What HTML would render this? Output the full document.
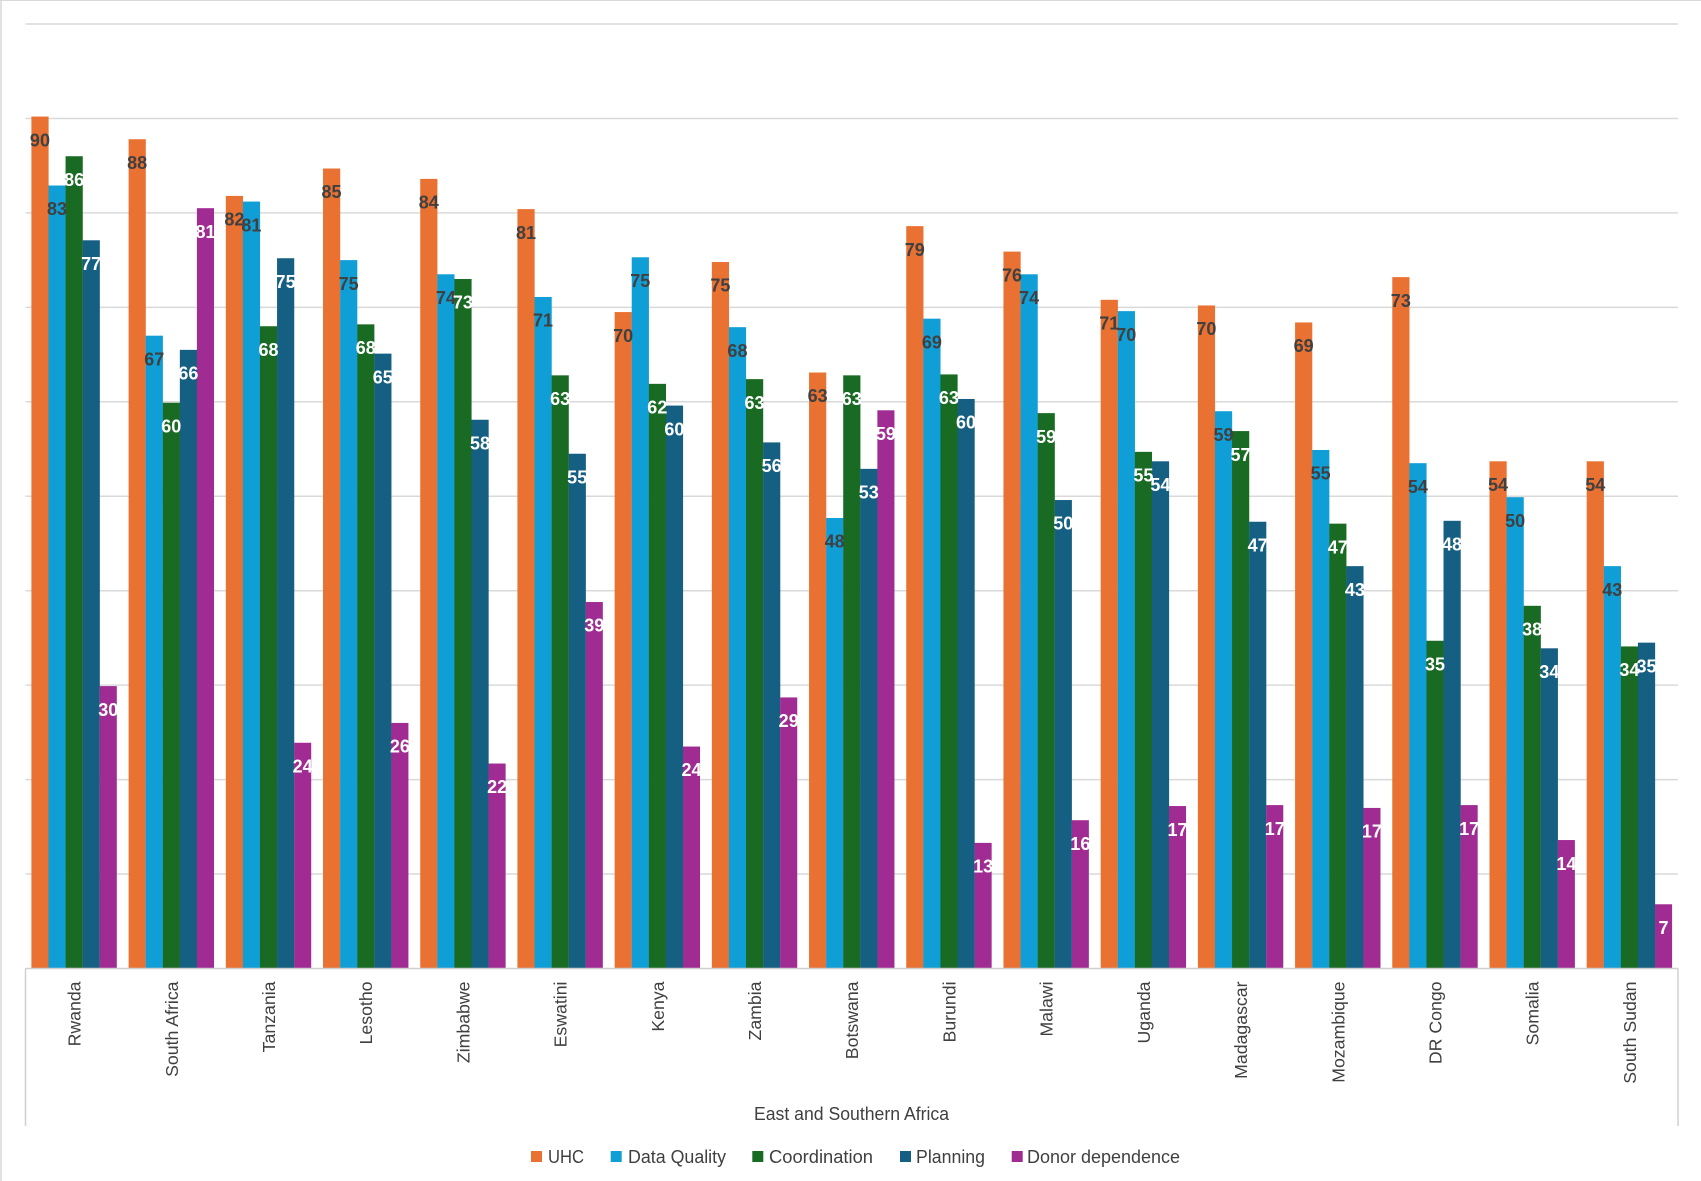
<!DOCTYPE html>
<html><head><meta charset="utf-8"><style>
html,body{margin:0;padding:0;background:#fff}
svg{display:block}
.s0{fill:#E97132}.s1{fill:#0F9ED5}.s2{fill:#196B24}.s3{fill:#156082}.s4{fill:#A02B93}
.lb text{font-family:"Liberation Sans",Arial,sans-serif;font-weight:bold;font-size:18px;text-anchor:middle}
.d{fill:#404040}.w{fill:#fff}
.cat text{font-family:"Liberation Sans",Arial,sans-serif;font-size:17.7px;fill:#404040;text-anchor:end}
.lg{font-family:"Liberation Sans",Arial,sans-serif;font-size:18px;fill:#404040}
</style></head><body>
<svg width="1701" height="1181" viewBox="0 0 1701 1181" xmlns="http://www.w3.org/2000/svg">
<rect x="0" y="0" width="1701" height="1181" fill="#fff"/>
<line x1="0" y1="0.5" x2="1701" y2="0.5" stroke="#d9d9d9" stroke-width="1"/>
<line x1="1" y1="0" x2="1" y2="1181" stroke="#d9d9d9" stroke-width="1.5"/>
<g stroke="#d9d9d9" stroke-width="1.5">
<line x1="25.5" y1="24" x2="1678" y2="24"/>
<line x1="25.5" y1="118.45" x2="1678" y2="118.45"/>
<line x1="25.5" y1="212.9" x2="1678" y2="212.9"/>
<line x1="25.5" y1="307.35" x2="1678" y2="307.35"/>
<line x1="25.5" y1="401.8" x2="1678" y2="401.8"/>
<line x1="25.5" y1="496.25" x2="1678" y2="496.25"/>
<line x1="25.5" y1="590.7" x2="1678" y2="590.7"/>
<line x1="25.5" y1="685.15" x2="1678" y2="685.15"/>
<line x1="25.5" y1="779.6" x2="1678" y2="779.6"/>
<line x1="25.5" y1="874.05" x2="1678" y2="874.05"/>
</g>
<!-- bars -->
<g>
<g transform="translate(31.4,0)">
<rect class="s0" x="0" y="116.56" width="17.2" height="851.94"/>
<rect class="s1" x="17.08" y="185.51" width="17.2" height="782.99"/>
<rect class="s2" x="34.16" y="156.23" width="17.2" height="812.27"/>
<rect class="s3" x="51.24" y="240.29" width="17.2" height="728.21"/>
<rect class="s4" x="68.32" y="686.09" width="17.08" height="282.41"/>
</g>
<g transform="translate(128.61,0)">
<rect class="s0" x="0" y="139.23" width="17.2" height="829.27"/>
<rect class="s1" x="17.08" y="335.68" width="17.2" height="632.82"/>
<rect class="s2" x="34.16" y="402.74" width="17.2" height="565.76"/>
<rect class="s3" x="51.24" y="349.85" width="17.2" height="618.65"/>
<rect class="s4" x="68.32" y="208.18" width="17.08" height="760.32"/>
</g>
<g transform="translate(225.81,0)">
<rect class="s0" x="0" y="195.9" width="17.2" height="772.6"/>
<rect class="s1" x="17.08" y="201.57" width="17.2" height="766.93"/>
<rect class="s2" x="34.16" y="326.24" width="17.2" height="642.26"/>
<rect class="s3" x="51.24" y="258.24" width="17.2" height="710.26"/>
<rect class="s4" x="68.32" y="742.76" width="17.08" height="225.74"/>
</g>
<g transform="translate(323.02,0)">
<rect class="s0" x="0" y="168.51" width="17.2" height="799.99"/>
<rect class="s1" x="17.08" y="260.12" width="17.2" height="708.38"/>
<rect class="s2" x="34.16" y="324.35" width="17.2" height="644.15"/>
<rect class="s3" x="51.24" y="353.63" width="17.2" height="614.87"/>
<rect class="s4" x="68.32" y="722.93" width="17.08" height="245.57"/>
</g>
<g transform="translate(420.22,0)">
<rect class="s0" x="0" y="178.9" width="17.2" height="789.6"/>
<rect class="s1" x="17.08" y="274.29" width="17.2" height="694.21"/>
<rect class="s2" x="34.16" y="279.01" width="17.2" height="689.49"/>
<rect class="s3" x="51.24" y="419.75" width="17.2" height="548.75"/>
<rect class="s4" x="68.32" y="763.54" width="17.08" height="204.96"/>
</g>
<g transform="translate(517.43,0)">
<rect class="s0" x="0" y="209.12" width="17.2" height="759.38"/>
<rect class="s1" x="17.08" y="296.96" width="17.2" height="671.54"/>
<rect class="s2" x="34.16" y="375.35" width="17.2" height="593.15"/>
<rect class="s3" x="51.24" y="453.75" width="17.2" height="514.75"/>
<rect class="s4" x="68.32" y="602.03" width="17.08" height="366.47"/>
</g>
<g transform="translate(614.64,0)">
<rect class="s0" x="0" y="312.07" width="17.2" height="656.43"/>
<rect class="s1" x="17.08" y="257.29" width="17.2" height="711.21"/>
<rect class="s2" x="34.16" y="383.85" width="17.2" height="584.65"/>
<rect class="s3" x="51.24" y="405.58" width="17.2" height="562.92"/>
<rect class="s4" x="68.32" y="746.54" width="17.08" height="221.96"/>
</g>
<g transform="translate(711.84,0)">
<rect class="s0" x="0" y="262.01" width="17.2" height="706.49"/>
<rect class="s1" x="17.08" y="327.18" width="17.2" height="641.32"/>
<rect class="s2" x="34.16" y="379.13" width="17.2" height="589.37"/>
<rect class="s3" x="51.24" y="442.41" width="17.2" height="526.09"/>
<rect class="s4" x="68.32" y="697.43" width="17.08" height="271.07"/>
</g>
<g transform="translate(809.05,0)">
<rect class="s0" x="0" y="372.52" width="17.2" height="595.98"/>
<rect class="s1" x="17.08" y="517.97" width="17.2" height="450.53"/>
<rect class="s2" x="34.16" y="375.35" width="17.2" height="593.15"/>
<rect class="s3" x="51.24" y="468.86" width="17.2" height="499.64"/>
<rect class="s4" x="68.32" y="410.3" width="17.08" height="558.2"/>
</g>
<g transform="translate(906.25,0)">
<rect class="s0" x="0" y="226.12" width="17.2" height="742.38"/>
<rect class="s1" x="17.08" y="318.68" width="17.2" height="649.82"/>
<rect class="s2" x="34.16" y="374.41" width="17.2" height="594.09"/>
<rect class="s3" x="51.24" y="398.97" width="17.2" height="569.53"/>
<rect class="s4" x="68.32" y="842.88" width="17.08" height="125.62"/>
</g>
<g transform="translate(1003.46,0)">
<rect class="s0" x="0" y="251.62" width="17.2" height="716.88"/>
<rect class="s1" x="17.08" y="274.29" width="17.2" height="694.21"/>
<rect class="s2" x="34.16" y="413.13" width="17.2" height="555.37"/>
<rect class="s3" x="51.24" y="500.03" width="17.2" height="468.47"/>
<rect class="s4" x="68.32" y="820.21" width="17.08" height="148.29"/>
</g>
<g transform="translate(1100.67,0)">
<rect class="s0" x="0" y="299.79" width="17.2" height="668.71"/>
<rect class="s1" x="17.08" y="311.13" width="17.2" height="657.37"/>
<rect class="s2" x="34.16" y="451.86" width="17.2" height="516.64"/>
<rect class="s3" x="51.24" y="461.3" width="17.2" height="507.2"/>
<rect class="s4" x="68.32" y="806.05" width="17.08" height="162.45"/>
</g>
<g transform="translate(1197.87,0)">
<rect class="s0" x="0" y="305.46" width="17.2" height="663.04"/>
<rect class="s1" x="17.08" y="411.24" width="17.2" height="557.26"/>
<rect class="s2" x="34.16" y="431.08" width="17.2" height="537.42"/>
<rect class="s3" x="51.24" y="521.75" width="17.2" height="446.75"/>
<rect class="s4" x="68.32" y="805.1" width="17.08" height="163.4"/>
</g>
<g transform="translate(1295.08,0)">
<rect class="s0" x="0" y="322.46" width="17.2" height="646.04"/>
<rect class="s1" x="17.08" y="449.97" width="17.2" height="518.53"/>
<rect class="s2" x="34.16" y="523.64" width="17.2" height="444.86"/>
<rect class="s3" x="51.24" y="566.14" width="17.2" height="402.36"/>
<rect class="s4" x="68.32" y="807.93" width="17.08" height="160.57"/>
</g>
<g transform="translate(1392.28,0)">
<rect class="s0" x="0" y="277.13" width="17.2" height="691.37"/>
<rect class="s1" x="17.08" y="463.19" width="17.2" height="505.31"/>
<rect class="s2" x="34.16" y="640.76" width="17.2" height="327.74"/>
<rect class="s3" x="51.24" y="520.81" width="17.2" height="447.69"/>
<rect class="s4" x="68.32" y="805.1" width="17.08" height="163.4"/>
</g>
<g transform="translate(1489.49,0)">
<rect class="s0" x="0" y="461.3" width="17.2" height="507.2"/>
<rect class="s1" x="17.08" y="497.19" width="17.2" height="471.31"/>
<rect class="s2" x="34.16" y="605.81" width="17.2" height="362.69"/>
<rect class="s3" x="51.24" y="648.31" width="17.2" height="320.19"/>
<rect class="s4" x="68.32" y="840.05" width="17.08" height="128.45"/>
</g>
<g transform="translate(1586.7,0)">
<rect class="s0" x="0" y="461.3" width="17.2" height="507.2"/>
<rect class="s1" x="17.08" y="566.14" width="17.2" height="402.36"/>
<rect class="s2" x="34.16" y="646.43" width="17.2" height="322.07"/>
<rect class="s3" x="51.24" y="642.65" width="17.2" height="325.85"/>
<rect class="s4" x="68.32" y="904.27" width="17.08" height="64.23"/>
</g>
</g>
<!-- axis lines -->
<g stroke="#d0d0d0" stroke-width="1.5">
<line x1="25.5" y1="968.5" x2="1678" y2="968.5"/>
<line x1="25.5" y1="968.5" x2="25.5" y2="1126"/>
<line x1="1678" y1="968.5" x2="1678" y2="1126"/>
</g>
<!-- data labels -->
<g class="lb">
<g transform="translate(31.4,0)"><text class="d" x="8.54" y="146.26">90</text><text class="d" x="25.62" y="215.21">83</text><text class="w" x="42.7" y="185.93">86</text><text class="w" x="59.78" y="269.99">77</text><text class="w" x="76.86" y="715.79">30</text></g>
<g transform="translate(128.61,0)"><text class="d" x="8.54" y="168.93">88</text><text class="d" x="25.62" y="365.38">67</text><text class="w" x="42.7" y="432.44">60</text><text class="w" x="59.78" y="379.55">66</text><text class="w" x="76.86" y="237.88">81</text></g>
<g transform="translate(225.81,0)"><text class="d" x="8.54" y="225.6">82</text><text class="d" x="25.62" y="231.27">81</text><text class="w" x="42.7" y="355.94">68</text><text class="w" x="59.78" y="287.94">75</text><text class="w" x="76.86" y="772.46">24</text></g>
<g transform="translate(323.02,0)"><text class="d" x="8.54" y="198.21">85</text><text class="d" x="25.62" y="289.82">75</text><text class="w" x="42.7" y="354.05">68</text><text class="w" x="59.78" y="383.33">65</text><text class="w" x="76.86" y="752.63">26</text></g>
<g transform="translate(420.22,0)"><text class="d" x="8.54" y="208.6">84</text><text class="d" x="25.62" y="303.99">74</text><text class="w" x="42.7" y="308.71">73</text><text class="w" x="59.78" y="449.45">58</text><text class="w" x="76.86" y="793.24">22</text></g>
<g transform="translate(517.43,0)"><text class="d" x="8.54" y="238.82">81</text><text class="d" x="25.62" y="326.66">71</text><text class="w" x="42.7" y="405.05">63</text><text class="w" x="59.78" y="483.45">55</text><text class="w" x="76.86" y="631.73">39</text></g>
<g transform="translate(614.64,0)"><text class="d" x="8.54" y="341.77">70</text><text class="d" x="25.62" y="286.99">75</text><text class="w" x="42.7" y="413.55">62</text><text class="w" x="59.78" y="435.28">60</text><text class="w" x="76.86" y="776.24">24</text></g>
<g transform="translate(711.84,0)"><text class="d" x="8.54" y="291.71">75</text><text class="d" x="25.62" y="356.88">68</text><text class="w" x="42.7" y="408.83">63</text><text class="w" x="59.78" y="472.11">56</text><text class="w" x="76.86" y="727.13">29</text></g>
<g transform="translate(809.05,0)"><text class="d" x="8.54" y="402.22">63</text><text class="d" x="25.62" y="547.67">48</text><text class="w" x="42.7" y="405.05">63</text><text class="w" x="59.78" y="498.56">53</text><text class="w" x="76.86" y="440">59</text></g>
<g transform="translate(906.25,0)"><text class="d" x="8.54" y="255.82">79</text><text class="d" x="25.62" y="348.38">69</text><text class="w" x="42.7" y="404.11">63</text><text class="w" x="59.78" y="428.67">60</text><text class="w" x="76.86" y="872.58">13</text></g>
<g transform="translate(1003.46,0)"><text class="d" x="8.54" y="281.32">76</text><text class="d" x="25.62" y="303.99">74</text><text class="w" x="42.7" y="442.83">59</text><text class="w" x="59.78" y="529.73">50</text><text class="w" x="76.86" y="849.91">16</text></g>
<g transform="translate(1100.67,0)"><text class="d" x="8.54" y="329.49">71</text><text class="d" x="25.62" y="340.83">70</text><text class="w" x="42.7" y="481.56">55</text><text class="w" x="59.78" y="491">54</text><text class="w" x="76.86" y="835.75">17</text></g>
<g transform="translate(1197.87,0)"><text class="d" x="8.54" y="335.16">70</text><text class="d" x="25.62" y="440.94">59</text><text class="w" x="42.7" y="460.78">57</text><text class="w" x="59.78" y="551.45">47</text><text class="w" x="76.86" y="834.8">17</text></g>
<g transform="translate(1295.08,0)"><text class="d" x="8.54" y="352.16">69</text><text class="d" x="25.62" y="479.67">55</text><text class="w" x="42.7" y="553.34">47</text><text class="w" x="59.78" y="595.84">43</text><text class="w" x="76.86" y="837.63">17</text></g>
<g transform="translate(1392.28,0)"><text class="d" x="8.54" y="306.83">73</text><text class="d" x="25.62" y="492.89">54</text><text class="w" x="42.7" y="670.46">35</text><text class="w" x="59.78" y="550.51">48</text><text class="w" x="76.86" y="834.8">17</text></g>
<g transform="translate(1489.49,0)"><text class="d" x="8.54" y="491">54</text><text class="d" x="25.62" y="526.89">50</text><text class="w" x="42.7" y="635.51">38</text><text class="w" x="59.78" y="678.01">34</text><text class="w" x="76.86" y="869.75">14</text></g>
<g transform="translate(1586.7,0)"><text class="d" x="8.54" y="491">54</text><text class="d" x="25.62" y="595.84">43</text><text class="w" x="42.7" y="676.13">34</text><text class="w" x="59.78" y="672.35">35</text><text class="w" x="76.86" y="933.97">7</text></g>
</g>
<!-- category labels -->
<g class="cat">
<text transform="translate(80.6,981.5) rotate(-90)">Rwanda</text>
<text transform="translate(177.8,981.5) rotate(-90)">South Africa</text>
<text transform="translate(275.0,981.5) rotate(-90)">Tanzania</text>
<text transform="translate(372.2,981.5) rotate(-90)">Lesotho</text>
<text transform="translate(469.4,981.5) rotate(-90)">Zimbabwe</text>
<text transform="translate(566.6,981.5) rotate(-90)">Eswatini</text>
<text transform="translate(663.8,981.5) rotate(-90)">Kenya</text>
<text transform="translate(761.0,981.5) rotate(-90)">Zambia</text>
<text transform="translate(858.2,981.5) rotate(-90)">Botswana</text>
<text transform="translate(955.5,981.5) rotate(-90)">Burundi</text>
<text transform="translate(1052.7,981.5) rotate(-90)">Malawi</text>
<text transform="translate(1149.9,981.5) rotate(-90)">Uganda</text>
<text transform="translate(1247.1,981.5) rotate(-90)">Madagascar</text>
<text transform="translate(1344.3,981.5) rotate(-90)">Mozambique</text>
<text transform="translate(1441.5,981.5) rotate(-90)">DR Congo</text>
<text transform="translate(1538.7,981.5) rotate(-90)">Somalia</text>
<text transform="translate(1635.9,981.5) rotate(-90)">South Sudan</text>
</g>
<text class="lg" x="851.5" y="1120" text-anchor="middle" font-size="17.5" textLength="195" lengthAdjust="spacingAndGlyphs">East and Southern Africa</text>
<!-- legend -->
<rect class="s0" x="531" y="1151" width="11" height="11"/>
<text class="lg" x="548" y="1163" textLength="36" lengthAdjust="spacingAndGlyphs">UHC</text>
<rect class="s1" x="610.7" y="1151" width="11" height="11"/>
<text class="lg" x="628" y="1163" textLength="98" lengthAdjust="spacingAndGlyphs">Data Quality</text>
<rect class="s2" x="752.3" y="1151" width="11" height="11"/>
<text class="lg" x="769" y="1163" textLength="104" lengthAdjust="spacingAndGlyphs">Coordination</text>
<rect class="s3" x="900" y="1151" width="11" height="11"/>
<text class="lg" x="916" y="1163" textLength="69" lengthAdjust="spacingAndGlyphs">Planning</text>
<rect class="s4" x="1011.7" y="1151" width="11" height="11"/>
<text class="lg" x="1027" y="1163" textLength="153" lengthAdjust="spacingAndGlyphs">Donor dependence</text>
</svg>
</body></html>
